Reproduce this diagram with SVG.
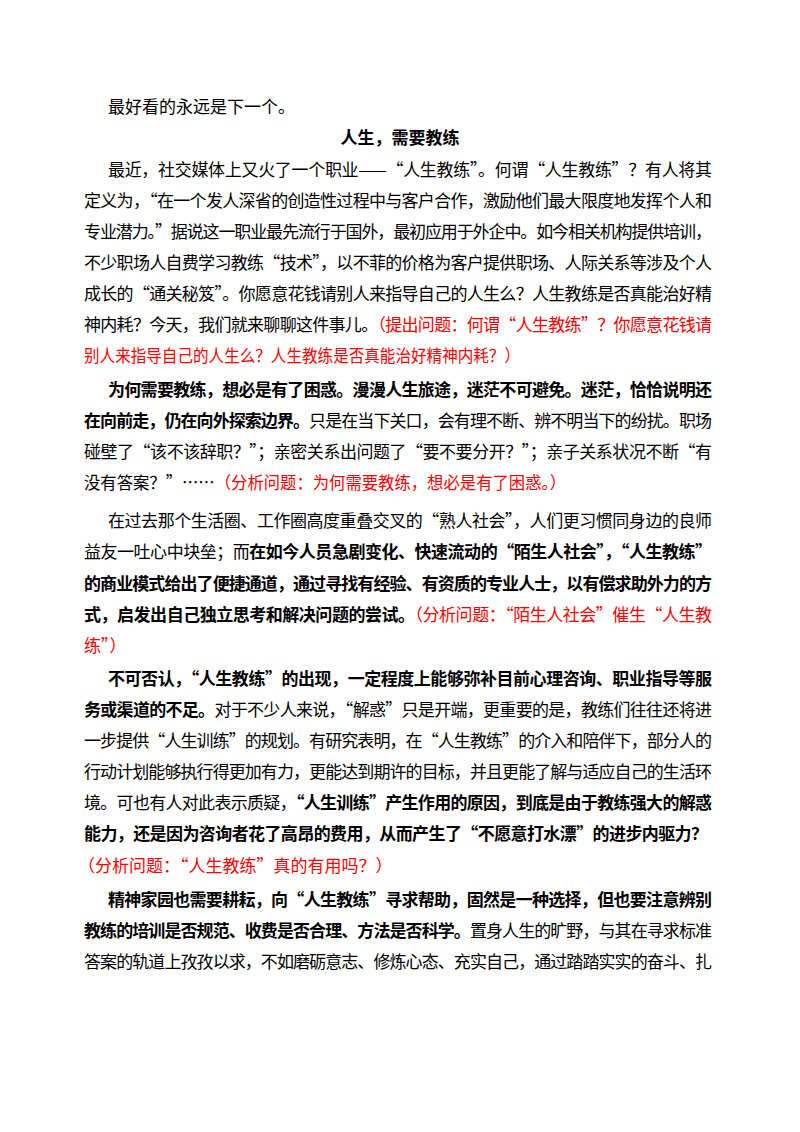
<svg xmlns="http://www.w3.org/2000/svg" width="800" height="1132" viewBox="0 0 800 1132">
<style>
text{font-family:"Noto Sans CJK SC","Noto Sans",sans-serif;font-size:17px;fill:#000}
.b{font-weight:bold}
.r{fill:#ff0000}
</style>
<rect width="800" height="1132" fill="#fff"/>
<g id="body">
<text x="108" y="113">最好看的永远是下一个。</text>
<text x="400" y="144" text-anchor="middle" class="b">人生，需要教练</text>
<text x="108" y="176" textLength="604" lengthAdjust="spacing">最近，社交媒体上又火了一个职业——“人生教练”。何谓“人生教练”？有人将其</text>
<text x="84" y="207" textLength="628" lengthAdjust="spacing">定义为，“在一个发人深省的创造性过程中与客户合作，激励他们最大限度地发挥个人和</text>
<text x="84" y="238" textLength="628" lengthAdjust="spacing">专业潜力。”据说这一职业最先流行于国外，最初应用于外企中。如今相关机构提供培训，</text>
<text x="84" y="269" textLength="628" lengthAdjust="spacing">不少职场人自费学习教练“技术”，以不菲的价格为客户提供职场、人际关系等涉及个人</text>
<text x="84" y="300" textLength="628" lengthAdjust="spacing">成长的“通关秘笈”。你愿意花钱请别人来指导自己的人生么？人生教练是否真能治好精</text>
<text x="84" y="331" textLength="628" lengthAdjust="spacing">神内耗？今天，我们就来聊聊这件事儿。<tspan class="r">（提出问题：何谓“人生教练”？你愿意花钱请</tspan></text>
<text x="84" y="362" class="r" textLength="436" lengthAdjust="spacingAndGlyphs">别人来指导自己的人生么？人生教练是否真能治好精神内耗？）</text>
<text x="108" y="396" textLength="604" lengthAdjust="spacing" class="b">为何需要教练，想必是有了困惑。漫漫人生旅途，迷茫不可避免。迷茫，恰恰说明还</text>
<text x="84" y="427" textLength="628" lengthAdjust="spacing"><tspan class="b">在向前走，仍在向外探索边界。</tspan>只是在当下关口，会有理不断、辨不明当下的纷扰。职场</text>
<text x="84" y="458" textLength="628" lengthAdjust="spacing">碰壁了“该不该辞职？”；亲密关系出问题了“要不要分开？”；亲子关系状况不断“有</text>
<text x="84" y="489" textLength="482" lengthAdjust="spacingAndGlyphs">没有答案？”……<tspan class="r">（分析问题：为何需要教练，想必是有了困惑。）</tspan></text>
<text x="108" y="527" textLength="604" lengthAdjust="spacing">在过去那个生活圈、工作圈高度重叠交叉的“熟人社会”，人们更习惯同身边的良师</text>
<text x="84" y="558" textLength="628" lengthAdjust="spacing">益友一吐心中块垒；而<tspan class="b">在如今人员急剧变化、快速流动的“陌生人社会”，“人生教练”</tspan></text>
<text x="84" y="590" textLength="628" lengthAdjust="spacing" class="b">的商业模式给出了便捷通道，通过寻找有经验、有资质的专业人士，以有偿求助外力的方</text>
<text x="84" y="621" textLength="628" lengthAdjust="spacing"><tspan class="b">式，启发出自己独立思考和解决问题的尝试。</tspan><tspan class="r">（分析问题：“陌生人社会”催生“人生教</tspan></text>
<text x="84" y="652" class="r">练”）</text>
<text x="108" y="685" textLength="604" lengthAdjust="spacing" class="b">不可否认，“人生教练”的出现，一定程度上能够弥补目前心理咨询、职业指导等服</text>
<text x="84" y="716" textLength="628" lengthAdjust="spacing"><tspan class="b">务或渠道的不足。</tspan>对于不少人来说，“解惑”只是开端，更重要的是，教练们往往还将进</text>
<text x="84" y="747" textLength="628" lengthAdjust="spacing">一步提供“人生训练”的规划。有研究表明，在“人生教练”的介入和陪伴下，部分人的</text>
<text x="84" y="778" textLength="628" lengthAdjust="spacing">行动计划能够执行得更加有力，更能达到期许的目标，并且更能了解与适应自己的生活环</text>
<text x="84" y="809" textLength="628" lengthAdjust="spacing">境。可也有人对此表示质疑，<tspan class="b">“人生训练”产生作用的原因，到底是由于教练强大的解惑</tspan></text>
<text x="84" y="840" textLength="624" lengthAdjust="spacing" class="b">能力，还是因为咨询者花了高昂的费用，从而产生了“不愿意打水漂”的进步内驱力？</text>
<text x="78" y="872" class="r">（分析问题：“人生教练”真的有用吗？）</text>
<text x="108" y="906" textLength="604" lengthAdjust="spacing" class="b">精神家园也需要耕耘，向“人生教练”寻求帮助，固然是一种选择，但也要注意辨别</text>
<text x="84" y="937" textLength="628" lengthAdjust="spacing"><tspan class="b">教练的培训是否规范、收费是否合理、方法是否科学。</tspan>置身人生的旷野，与其在寻求标准</text>
<text x="84" y="968" textLength="628" lengthAdjust="spacing">答案的轨道上孜孜以求，不如磨砺意志、修炼心态、充实自己，通过踏踏实实的奋斗、扎</text>
</g>
</svg>
